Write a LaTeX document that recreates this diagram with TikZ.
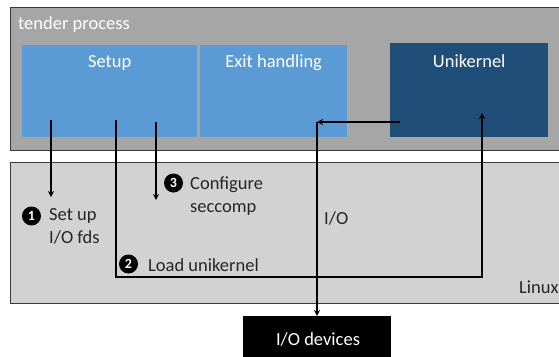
\documentclass[tikz,border=0pt]{standalone}
\usepackage{fontspec}
\setmainfont{Carlito}
\usetikzlibrary{positioning,arrows.meta}

\definecolor{procgray}{HTML}{A6A6A6}
\definecolor{linuxgray}{HTML}{D2D2D2}
\definecolor{setupblue}{HTML}{5B9BD5}
\definecolor{ukblue}{HTML}{1F4E79}
\definecolor{edgegray}{HTML}{3A3A3A}
\definecolor{labelgray}{HTML}{262626}

\begin{document}
\begin{tikzpicture}[x=1pt,y=-1pt,
    region/.style={draw=edgegray, line width=1.4pt, anchor=north west, inner sep=0},
    part/.style={anchor=north west, inner sep=0},
    boxtext/.style={text=white, anchor=base, inner sep=0},
    steptext/.style={text=labelgray, anchor=base west, inner sep=0, align=left},
    numdot/.style={circle, fill=black, text=white, inner sep=0, minimum size=19pt,
        font=\bfseries\fontsize{14}{14}\selectfont},
    flow/.style={line width=2pt, -{Stealth[length=6pt,width=6pt]}},
    font=\fontsize{18.5}{23}\selectfont]
\clip (0,0) rectangle (559,356);
\fill[white] (0,0) rectangle (559,356);

\node[region, fill=procgray, minimum width=600pt, minimum height=143pt] (tender) at (10,7) {};
\node[boxtext, anchor=base west] (tendertext) at (18,29) {tender process};
\node[part, fill=setupblue, minimum width=175pt, minimum height=92pt] (setup) at (22,45) {};
\node[part, fill=setupblue, minimum width=147pt, minimum height=92pt] (exit) at (200,45) {};
\node[part, fill=ukblue, minimum width=158pt, minimum height=94pt] (uk) at (390,43) {};
\node[boxtext] (setuptext) at ([yshift=-22pt]setup.north) {Setup};
\node[boxtext] (exittext) at ([yshift=-22pt]exit.north) {Exit handling};
\node[boxtext] (uktext) at ([yshift=-24pt]uk.north) {Unikernel};

\node[region, fill=linuxgray, minimum width=600pt, minimum height=141pt] (linux) at (10,162) {};
\node[steptext] (linuxtext) at (519,293) {Linux};

\node[part, fill=black, minimum width=148pt, minimum height=45pt] (iodev) at (243,316) {};
\node[boxtext] (iodevtext) at (318,345) {I/O devices};

\node[numdot] (one) at (31.5,216) {1};
\node[steptext] (fdstext) at (49,243) {Set up\\I/O fds};
\node[numdot] (two) at (128.5,264) {2};
\node[steptext] (loadtext) at (148,271) {Load unikernel};
\node[numdot] (three) at (173.5,183) {3};
\node[steptext] (secctext) at (190,212) {Configure\\seccomp};
\node[steptext] (iotext) at (324,224) {I/O};

\coordinate (setup1) at (51,120);
\coordinate (fdstip) at (51,197);
\coordinate (setup2) at (116,120);
\coordinate (loadcorner) at (482,277);
\coordinate (ukin) at (482,113);
\coordinate (setup3) at (156,122);
\coordinate (secctip) at (156,200);
\coordinate (ukout) at (400,122);
\coordinate (iocorner) at (317,122);

\draw[flow] (setup1) -- (fdstip);
\draw[flow] (setup2) |- (loadcorner) -- (ukin);
\draw[flow] (setup3) -- (secctip);
\draw[flow] (ukout) -- (iocorner);
\draw[flow] (iocorner) -- (iocorner |- iodev.north);
\end{tikzpicture}
\end{document}
